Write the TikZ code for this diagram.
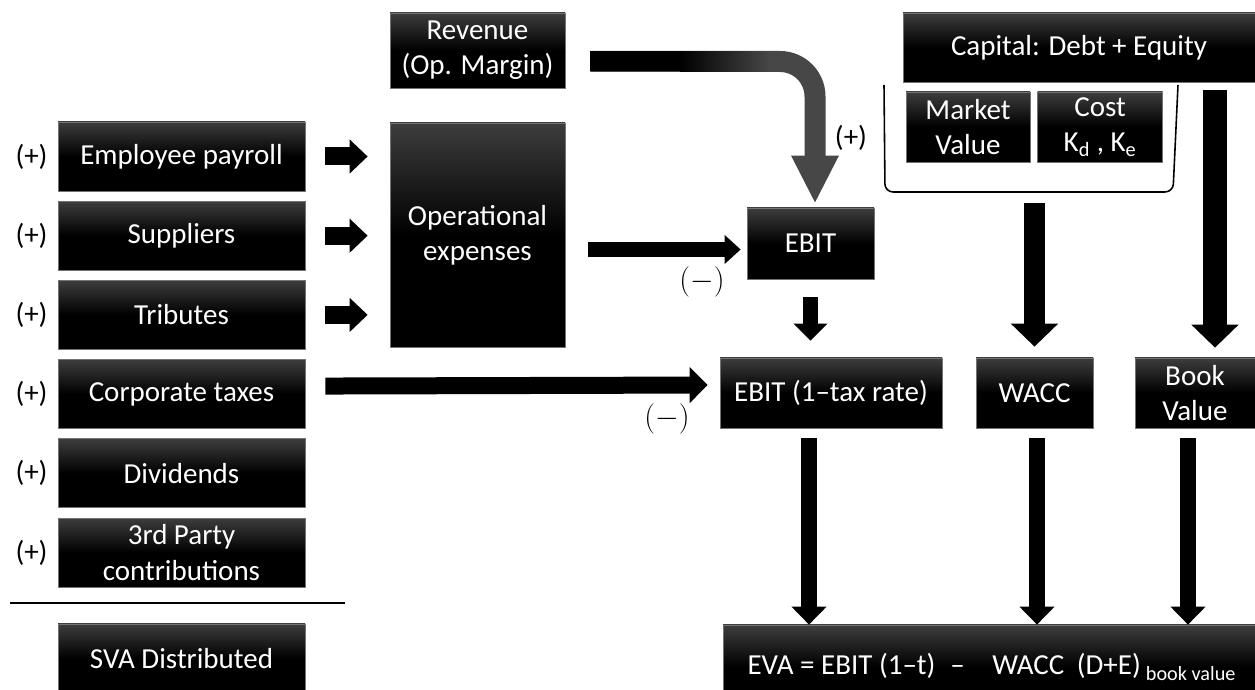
\documentclass[tikz,border=0pt]{standalone}
\usepackage{fontspec}
\setmainfont{Carlito}
\usetikzlibrary{arrows.meta, positioning, calc}

\begin{document}
\begin{tikzpicture}[
    box/.style={rectangle, draw=black!55, line width=0.4pt, top color=black!76, bottom color=black, middle color=black, text=white, align=center, inner sep=1pt, font=\fontsize{16.5}{20}\selectfont},
    sign/.style={font=\fontsize{16.5}{20}\selectfont, text=black, inner sep=1pt},
    neg/.style={font=\fontsize{17}{20}\selectfont, text=black, inner sep=1pt},
    fat/.style n args={3}{-{Triangle[length=#2, width=#3]}, line width=#1, black},
    revarr/.style={-{Triangle[length=0.96cm, width=0.88cm]}, line width=0.42cm, rounded corners=0.7cm, draw=black!72},
]
    \useasboundingbox (0,0) rectangle (25.1,13.8);

    % distributed value, left column
    \node[box, minimum width=4.94cm, minimum height=1.38cm] (payroll) at (3.63,10.67) {Employee payroll};
    \node[box, minimum width=4.94cm, minimum height=1.38cm, below=0.19cm of payroll] (suppliers) {Suppliers};
    \node[box, minimum width=4.94cm, minimum height=1.38cm, below=0.19cm of suppliers] (tributes) {Tributes};
    \node[box, minimum width=4.94cm, minimum height=1.38cm, below=0.19cm of tributes] (corptax) {Corporate taxes};
    \node[box, minimum width=4.94cm, minimum height=1.38cm, below=0.19cm of corptax] (dividends) {Dividends};
    \node[box, minimum width=4.94cm, minimum height=1.38cm, below=0.19cm of dividends] (thirdparty) {3rd Party\\contributions};
    \node[box, minimum width=4.94cm, minimum height=1.38cm] (svadist) at (3.63,0.63) {SVA Distributed};
    \foreach \n in {payroll, suppliers, tributes, corptax, dividends, thirdparty}
        \node[sign, left=0.16cm of \n] (plus-\n) {(+)};
    \draw[line width=1.1pt] (0.2,1.74) -- (6.9,1.74);

    % operating side
    \node[box, minimum width=3.5cm, minimum height=1.5cm] (revenue) at (9.55,12.79) {Revenue\\(Op. Margin)};
    \node[box, minimum width=3.5cm, minimum height=4.48cm] (opex) at (9.55,9.10) {Operational\\expenses};
    \node[box, minimum width=2.54cm, minimum height=1.42cm] (ebit) at (16.21,8.93) {EBIT};
    \node[box, minimum width=4.44cm, minimum height=1.4cm] (ebittax) at (16.62,5.94) {EBIT (1–tax rate)};

    % capital side
    \node[box, minimum width=7.04cm, minimum height=1.38cm] (capital) at (21.58,12.85) {Capital: Debt + Equity};
    \node[box, minimum width=2.48cm, minimum height=1.4cm] (market) at (19.36,11.26) {Market\\Value};
    \node[box, minimum width=2.5cm, minimum height=1.4cm, right=0.14cm of market] (cost) {Cost\\K\textsubscript{d} , K\textsubscript{e}};
    \node[box, minimum width=2.34cm, minimum height=1.4cm] (wacc) at (20.69,5.94) {WACC};
    \node[box, minimum width=2.4cm, minimum height=1.4cm] (bookval) at (23.9,5.94) {Book\\Value};
    \node[box, minimum width=10.74cm, minimum height=1.68cm] (eva) at (19.83,0.46)
        {EVA = EBIT (1–t)\hspace{0.3cm}–\hspace{0.55cm}WACC\hspace{0.25cm}(D+E)\hspace{0.1cm}\raisebox{-0.12cm}{\fontsize{11.5}{14}\selectfont book value}};

    % bracket under capital
    \draw[line width=0.9pt, rounded corners=0.16cm] (17.68,12.1) -- (17.7,9.96) -- (23.46,9.96) -- (23.56,12.1);
    \coordinate (brkbot) at (20.69,9.96);

    % arrows
    \foreach \n in {payroll, suppliers, tributes}
        \draw[fat={0.36cm}{0.36cm}{0.66cm}, shorten <=0.4cm, shorten >=0.44cm] (\n.east) -- (\n.east -| opex.west);
    \draw[revarr] ($(revenue.east)+(0.5,-0.22)$) -| ($(ebit.north)+(0.09,0.08)$);
    \fill[black] ($(revenue.east)+(0.5,-0.02)$) rectangle ($(revenue.east)+(2.3,-0.42)$);
    \fill[left color=black, right color=black!72] ($(revenue.east)+(2.29,-0.02)$) rectangle ($(revenue.east)+(4.1,-0.42)$);
    \draw[fat={0.3cm}{0.32cm}{0.56cm}, shorten <=0.46cm, shorten >=0.12cm] ($(ebit.west -| opex.east)+(0,-0.12)$) -- ($(ebit.west)+(0,-0.12)$);
    \draw[fat={0.34cm}{0.36cm}{0.7cm}, shorten <=0.4cm, shorten >=0.24cm] ($(corptax.east)+(0,0.16)$) -- ($(ebittax.west)+(0,0.16)$);
    \draw[fat={0.3cm}{0.34cm}{0.66cm}, shorten <=0.36cm, shorten >=0.34cm] (ebit.south) -- (ebit.south |- ebittax.north);
    \draw[fat={0.42cm}{0.46cm}{0.92cm}, shorten <=0.22cm, shorten >=0.22cm] (brkbot) -- (brkbot |- wacc.north);
    \draw[fat={0.48cm}{0.46cm}{0.92cm}, shorten <=0.16cm, shorten >=0.2cm] ([xshift=0.4cm]bookval.north |- capital.south) -- ([xshift=0.4cm]bookval.north);
    \draw[fat={0.32cm}{0.36cm}{0.68cm}, shorten <=0.2cm] ([xshift=-0.44cm]ebittax.south) -- ([xshift=-0.44cm]ebittax.south |- eva.north);
    \draw[fat={0.32cm}{0.36cm}{0.68cm}, shorten <=0.2cm] ([xshift=0.05cm]wacc.south) -- ([xshift=0.05cm]wacc.south |- eva.north);
    \draw[fat={0.32cm}{0.36cm}{0.68cm}, shorten <=0.2cm] ([xshift=-0.14cm]bookval.south) -- ([xshift=-0.14cm]bookval.south |- eva.north);

    % signs on the arrows
    \node[sign] (plus-rev) at (17.02,11.04) {(+)};
    \node[neg] (minus-opex) at (14.04,8.16) {$(-)$};
    \node[neg] (minus-tax) at (13.34,5.42) {$(-)$};
\end{tikzpicture}
\end{document}
